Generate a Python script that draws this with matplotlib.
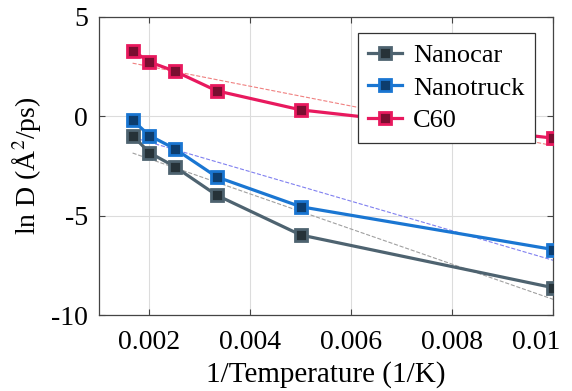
import numpy as np
import matplotlib
matplotlib.use("Agg")
import matplotlib.pyplot as plt
import matplotlib.transforms as mtransforms

# temperatures (K) and ln D values per molecule
temps = np.array([600, 500, 400, 300, 200, 100])
inv_t = 1.0 / temps
nanocar = [-0.97, -1.83, -2.53, -3.97, -5.97, -8.62]
nanotruck = [-0.2, -0.97, -1.63, -3.05, -4.55, -6.7]
c60 = [3.3, 2.73, 2.27, 1.28, 0.32, -1.1]

names = ["Nanocar", "Nanotruck", "C60"]
series = [nanocar, nanotruck, c60]
edge_cols = ["#4e6370", "#1a76d2", "#e8195e"]
face_cols = ["#263238", "#0d3d6e", "#7a0d30"]
fit_cols = ["#a0a0a0", "#8080f0", "#f08080"]

plt.rcParams["font.family"] = ["Liberation Serif", "DejaVu Serif"]
plt.rcParams["mathtext.fontset"] = "stix"

fig = plt.figure(figsize=(5.72, 3.91), dpi=100)
ax = fig.add_axes([0.173, 0.194, 0.794, 0.763])

for name, y, ec, fc, lc in zip(names, series, edge_cols, face_cols, fit_cols):
    ax.plot(inv_t, y, "-s", color=ec, lw=2.3, ms=9, mec=ec, mfc=fc, mew=2,
            label=name, zorder=3)
    # Arrhenius fit
    p = np.polyfit(inv_t, y, 1)
    ax.plot(inv_t, np.polyval(p, inv_t), "--", color=lc, lw=0.8, zorder=2)

ax.set_xlim(0.001, 0.01)
ax.set_ylim(-10, 5)
ax.set_xticks([0.002, 0.004, 0.006, 0.008, 0.01])
ax.set_xticklabels(["0.002", "0.004", "0.006", "0.008", "0.01"])
ax.set_yticks([-10, -5, 0, 5])
ax.set_yticklabels(["-10", "-5", "0", "5"])
ax.grid(True, color="#dcdcdc", lw=0.8)
ax.tick_params(direction="in", top=True, right=True, labelsize=20, length=4,
               color="#444444")
ax.tick_params(axis="x", pad=11)
ax.tick_params(axis="y", pad=8)
for s in ax.spines.values():
    s.set_color("#444444")
    s.set_linewidth(0.9)

# keep the last x label inside the figure
last = ax.get_xticklabels()[-1]
last.set_horizontalalignment("right")
last.set_transform(last.get_transform() +
                   mtransforms.ScaledTranslation(7 / 100, 0, fig.dpi_scale_trans))

ax.set_xlabel("1/Temperature (1/K)", fontsize=21, labelpad=4)
ax.set_ylabel("ln D (Å$^2$/ps)", fontsize=20, labelpad=6)

leg = ax.legend(loc="upper right", bbox_to_anchor=(0.960, 0.946), fontsize=19,
                frameon=True, fancybox=False, edgecolor="#333333",
                framealpha=1.0, handlelength=1.3, borderpad=0.4,
                labelspacing=0.35, handletextpad=0.4, borderaxespad=0)
leg.get_frame().set_linewidth(0.9)

fig.savefig("out.png", dpi=100)
